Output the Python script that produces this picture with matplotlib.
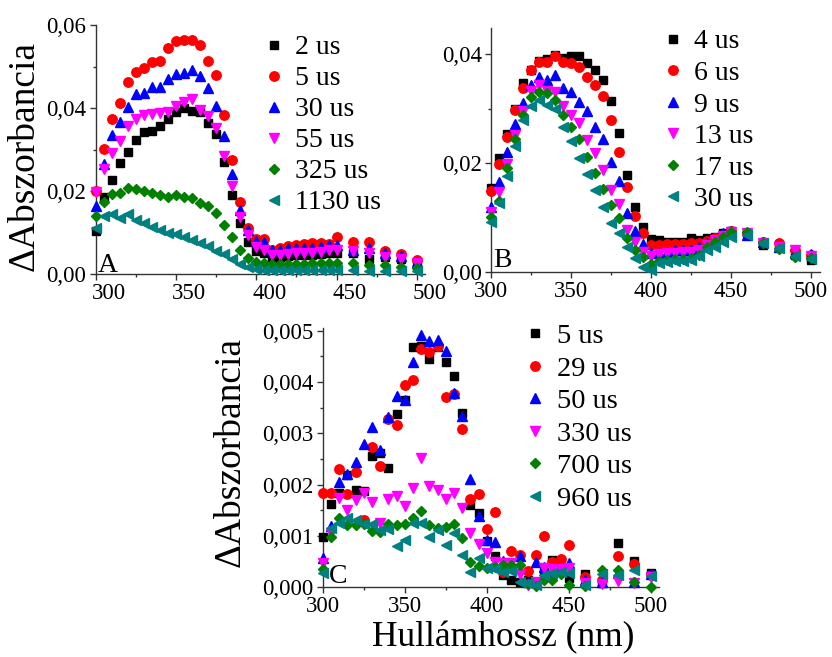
import numpy as np
import matplotlib
matplotlib.use("Agg")
import matplotlib.pyplot as plt
from matplotlib.ticker import MultipleLocator, FuncFormatter
from matplotlib.transforms import ScaledTranslation

plt.rcParams['font.family'] = ['Liberation Serif', 'DejaVu Serif']

# wavelengths (nm): 5 nm steps up to 450, then 10 nm steps
wl = list(range(300, 451, 5)) + [460, 470, 480, 490, 500]

# panel A
a_labels = ['2 us', '5 us', '30 us', '55 us', '325 us', '1130 us']
a_2 = [0.0103, 0.0186, 0.0226, 0.0267, 0.0295, 0.0323, 0.0343, 0.0345, 0.0357, 0.0374, 0.0390, 0.0400,
       0.0393, 0.0390, 0.0365, 0.0337, 0.0270, 0.0190, 0.0122, 0.0078, 0.0056, 0.0050, 0.0037, 0.0040,
       0.0043, 0.0045, 0.0046, 0.0046, 0.0048, 0.0050, 0.0051, 0.0050, 0.0036, 0.0042, 0.0035, 0.0024]
a_5 = [0.0201, 0.0302, 0.0373, 0.0413, 0.0463, 0.0487, 0.0497, 0.0511, 0.0514, 0.0544, 0.0562, 0.0564,
       0.0563, 0.0553, 0.0514, 0.0480, 0.0383, 0.0274, 0.0173, 0.0111, 0.0084, 0.0084, 0.0059, 0.0062,
       0.0067, 0.0070, 0.0072, 0.0074, 0.0074, 0.0072, 0.0088, 0.0078, 0.0076, 0.0056, 0.0047, 0.0034]
a_30 = [0.0163, 0.0264, 0.0334, 0.0366, 0.0403, 0.0433, 0.0435, 0.0450, 0.0450, 0.0470, 0.0481, 0.0485,
        0.0492, 0.0477, 0.0449, 0.0405, 0.0333, 0.0240, 0.0155, 0.0106, 0.0080, 0.0078, 0.0058, 0.0058,
        0.0062, 0.0062, 0.0062, 0.0062, 0.0066, 0.0070, 0.0070, 0.0058, 0.0062, 0.0051, 0.0043, 0.0030]
a_55 = [0.0198, 0.0252, 0.0292, 0.0320, 0.0357, 0.0374, 0.0382, 0.0385, 0.0389, 0.0390, 0.0406, 0.0414,
        0.0422, 0.0395, 0.0380, 0.0351, 0.0284, 0.0212, 0.0137, 0.0095, 0.0065, 0.0058, 0.0046, 0.0046,
        0.0048, 0.0050, 0.0051, 0.0051, 0.0054, 0.0058, 0.0058, 0.0056, 0.0051, 0.0042, 0.0035, 0.0027]
a_325 = [0.0140, 0.0173, 0.0192, 0.0196, 0.0208, 0.0204, 0.0200, 0.0196, 0.0190, 0.0186, 0.0190, 0.0186,
         0.0182, 0.0172, 0.0165, 0.0148, 0.0117, 0.0088, 0.0058, 0.0038, 0.0030, 0.0027, 0.0023, 0.0025,
         0.0025, 0.0025, 0.0025, 0.0026, 0.0026, 0.0026, 0.0027, 0.0027, 0.0022, 0.0022, 0.0018, 0.0014]
a_1130 = [0.0110, 0.0140, 0.0144, 0.0135, 0.0145, 0.0130, 0.0122, 0.0114, 0.0106, 0.0099, 0.0096, 0.0088,
          0.0082, 0.0075, 0.0068, 0.0056, 0.0047, 0.0035, 0.0025, 0.0016, 0.0012, 0.0010, 0.0009, 0.0009,
          0.0009, 0.0009, 0.0009, 0.0009, 0.0009, 0.0009, 0.0009, 0.0010, 0.0008, 0.0008, 0.0008, 0.0008]

# panel B
b_labels = ['4 us', '6 us', '9 us', '13 us', '17 us', '30 us']
b_4 = [0.0154, 0.0209, 0.0254, 0.0299, 0.0347, 0.0371, 0.0387, 0.0391, 0.0399, 0.0393, 0.0397, 0.0397,
       0.0383, 0.0371, 0.0352, 0.0315, 0.0255, 0.0179, 0.0120, 0.0083, 0.0061, 0.0059, 0.0056, 0.0056,
       0.0056, 0.0062, 0.0059, 0.0062, 0.0065, 0.0072, 0.0075, 0.0072, 0.0050, 0.0050, 0.0032, 0.0023]
b_6 = [0.0150, 0.0199, 0.0248, 0.0298, 0.0338, 0.0371, 0.0385, 0.0385, 0.0396, 0.0385, 0.0383, 0.0377,
       0.0359, 0.0344, 0.0324, 0.0280, 0.0221, 0.0157, 0.0103, 0.0072, 0.0050, 0.0050, 0.0052, 0.0052,
       0.0052, 0.0053, 0.0054, 0.0057, 0.0062, 0.0069, 0.0075, 0.0072, 0.0056, 0.0054, 0.0040, 0.0032]
b_9 = [0.0120, 0.0166, 0.0221, 0.0272, 0.0311, 0.0344, 0.0359, 0.0353, 0.0362, 0.0338, 0.0330, 0.0313,
       0.0295, 0.0266, 0.0244, 0.0203, 0.0168, 0.0109, 0.0075, 0.0052, 0.0035, 0.0036, 0.0038, 0.0040,
       0.0040, 0.0041, 0.0047, 0.0054, 0.0060, 0.0072, 0.0075, 0.0068, 0.0056, 0.0047, 0.0035, 0.0034]
b_13 = [0.0111, 0.0148, 0.0198, 0.0252, 0.0295, 0.0333, 0.0344, 0.0333, 0.0331, 0.0305, 0.0289, 0.0273,
        0.0242, 0.0218, 0.0187, 0.0151, 0.0125, 0.0078, 0.0056, 0.0038, 0.0029, 0.0034, 0.0036, 0.0036,
        0.0038, 0.0038, 0.0041, 0.0050, 0.0059, 0.0067, 0.0073, 0.0072, 0.0053, 0.0047, 0.0040, 0.0029]
b_17 = [0.0101, 0.0131, 0.0191, 0.0244, 0.0289, 0.0321, 0.0331, 0.0328, 0.0316, 0.0289, 0.0267, 0.0244,
        0.0212, 0.0183, 0.0152, 0.0124, 0.0099, 0.0063, 0.0041, 0.0028, 0.0015, 0.0020, 0.0023, 0.0024,
        0.0024, 0.0026, 0.0032, 0.0047, 0.0056, 0.0065, 0.0073, 0.0073, 0.0054, 0.0042, 0.0028, 0.0026]
b_30 = [0.0093, 0.0128, 0.0177, 0.0231, 0.0280, 0.0305, 0.0316, 0.0307, 0.0299, 0.0267, 0.0240, 0.0209,
        0.0180, 0.0151, 0.0120, 0.0090, 0.0072, 0.0047, 0.0026, 0.0009, 0.0005, 0.0017, 0.0018, 0.0020,
        0.0020, 0.0023, 0.0029, 0.0041, 0.0047, 0.0056, 0.0064, 0.0068, 0.0053, 0.0044, 0.0030, 0.0024]

# panel C
c_labels = ['5 us', '29 us', '50 us', '330 us', '700 us', '960 us']
c_5 = [0.00097, 0.00163, 0.00184, 0.00219, 0.00189, 0.00187, 0.00255, 0.00261, 0.00232, 0.00337, 0.00365, 0.00468,
       0.00470, 0.00444, 0.00468, 0.00439, 0.00412, 0.00339, 0.00160, 0.00145, 0.00091, 0.00060, 0.00023, 0.00015,
       0.00010, 0.00014, 0.00010, 0.00030, 0.00053, 0.00040, 0.00018, 0.00026, 0.00009, 0.00087, 0.00052, 0.00028]
c_29 = [0.00183, 0.00183, 0.00230, 0.00181, 0.00225, 0.00132, 0.00274, 0.00237, 0.00328, 0.00316, 0.00394, 0.00403,
        0.00464, 0.00459, 0.00469, 0.00370, 0.00377, 0.00309, 0.00171, 0.00181, 0.00114, 0.00147, 0.00030, 0.00070,
        0.00062, 0.00032, 0.00062, 0.00100, 0.00050, 0.00056, 0.00082, 0.00021, 0.00015, 0.00061, 0.00046, 0.00024]
c_50 = [0.00057, 0.00120, 0.00205, 0.00220, 0.00245, 0.00280, 0.00313, 0.00267, 0.00332, 0.00373, 0.00365, 0.00439,
        0.00492, 0.00480, 0.00481, 0.00461, 0.00378, 0.00334, 0.00210, 0.00138, 0.00093, 0.00088, 0.00052, 0.00048,
        0.00060, 0.00010, 0.00050, 0.00040, 0.00027, 0.00035, 0.00047, 0.00015, 0.00010, 0.00027, 0.00011, 0.00026]
c_330 = [0.00048, 0.00105, 0.00173, 0.00150, 0.00170, 0.00183, 0.00166, 0.00125, 0.00171, 0.00177, 0.00158, 0.00194,
         0.00252, 0.00198, 0.00189, 0.00171, 0.00183, 0.00155, 0.00105, 0.00085, 0.00067, 0.00050, 0.00048, 0.00048,
         0.00026, 0.00005, 0.00010, 0.00037, 0.00035, 0.00035, 0.00037, 0.00008, 0.00006, 0.00013, 0.00009, 0.00021]
c_700 = [0.00035, 0.00098, 0.00135, 0.00121, 0.00122, 0.00124, 0.00109, 0.00108, 0.00123, 0.00121, 0.00123, 0.00135,
         0.00148, 0.00122, 0.00116, 0.00117, 0.00124, 0.00096, 0.00049, 0.00042, 0.00038, 0.00040, 0.00044, 0.00044,
         0.00044, 0.00007, 0.00003, 0.00014, 0.00015, 0.00025, 0.00005, 0.00003, 0.00033, 0.00033, 0.00011, 0.00000]
c_960 = [0.00028, 0.00115, 0.00125, 0.00134, 0.00132, 0.00124, 0.00124, 0.00112, 0.00113, 0.00080, 0.00092, 0.00125,
         0.00126, 0.00098, 0.00112, 0.00082, 0.00105, 0.00063, 0.00030, 0.00057, 0.00038, 0.00035, 0.00029, 0.00031,
         0.00011, 0.00008, 0.00005, 0.00024, 0.00027, 0.00029, 0.00027, 0.00005, 0.00026, 0.00024, 0.00034, 0.00022]

colors = ['#000000', '#ff0000', '#0000ff', '#ff00ff', '#008000', '#008080']
markers = ['s', 'o', '^', 'v', 'D', '<']
msizes = [6, 6.8, 7, 7, 5.6, 7]

W, H = 832, 657
fig = plt.figure(figsize=(W / 100, H / 100), dpi=100)


def px_axes(left, right, top, bottom):
    return fig.add_axes([left / W, 1 - bottom / H, (right - left) / W, (bottom - top) / H])


def draw_panel(ax, series, labels, xlim, ylim, ymaj, ymin, ydec, leg_xy, leg_fs, leg_sp):
    for i, ys in enumerate(series):
        ax.plot(wl, ys, linestyle='none', marker=markers[i], ms=msizes[i],
                color=colors[i], mec=colors[i], label=labels[i], clip_on=False, zorder=3 + i)
    ax.set_xlim(*xlim)
    ax.set_ylim(*ylim)
    ax.xaxis.set_major_locator(MultipleLocator(50))
    ax.xaxis.set_minor_locator(MultipleLocator(25))
    ax.yaxis.set_major_locator(MultipleLocator(ymaj))
    ax.yaxis.set_minor_locator(MultipleLocator(ymin))
    ax.yaxis.set_major_formatter(FuncFormatter(lambda v, p: f"{v:.{ydec}f}".replace('.', ',')))
    for s in ['top', 'right']:
        ax.spines[s].set_visible(False)
    for s in ['left', 'bottom']:
        ax.spines[s].set_linewidth(1.0)
        ax.spines[s].set_color('#333333')
    ax.tick_params(which='major', direction='out', length=4.5, width=1, labelsize=16.5, pad=2, color='#333333')
    ax.tick_params(which='minor', direction='out', length=2.5, width=1, color='#333333')
    ax.set_facecolor('none')
    ax.legend(loc='upper left', bbox_to_anchor=(leg_xy[0] / W, 1 - leg_xy[1] / H),
              bbox_transform=fig.transFigure, frameon=False, fontsize=leg_fs,
              borderpad=0, borderaxespad=0, handlelength=0.8, handletextpad=0.36,
              labelspacing=leg_sp, numpoints=1)


ax_a = px_axes(95.5, 425, 25, 274)
draw_panel(ax_a, [a_2, a_5, a_30, a_55, a_325, a_1130], a_labels,
           (300, 505), (0, 0.06), 0.02, 0.01, 2, (263, 35), 20, 0.2)
# tick labels of panel A sit a little to the right of their ticks
shift = ScaledTranslation(0.13, 0, fig.dpi_scale_trans)
for lab in ax_a.get_xticklabels():
    lab.set_transform(lab.get_transform() + shift)

ax_b = px_axes(491, 820, 28, 272.3)
draw_panel(ax_b, [b_4, b_6, b_9, b_13, b_17, b_30], b_labels,
           (300, 505.6), (0, 0.0448), 0.02, 0.01, 2, (662, 29), 20, 0.22)

ax_c = px_axes(322.7, 659.3, 328, 587.3)
draw_panel(ax_c, [c_5, c_29, c_50, c_330, c_700, c_960], c_labels,
           (300, 505.2), (0, 0.00505), 0.001, 0.0005, 3, (524, 323.5), 20.5, 0.23)

fig.text(98 / W, 1 - 272 / H, 'A', fontsize=20, ha='left', va='baseline')
fig.text(493 / W, 1 - 267 / H, 'B', fontsize=20, ha='left', va='baseline')
fig.text(329 / W, 1 - 583 / H, 'C', fontsize=20, ha='left', va='baseline')

fig.text(24 / W, 1 - 156 / H, 'ΔAbszorbancia', fontsize=27, rotation=90, ha='center', va='center')
fig.text(230 / W, 1 - 452 / H, 'ΔAbszorbancia', fontsize=27, rotation=90, ha='center', va='center')
fig.text(503 / W, 1 - 638 / H, 'Hullámhossz (nm)', fontsize=25.5, ha='center', va='center')

fig.savefig('out.png', dpi=100)
